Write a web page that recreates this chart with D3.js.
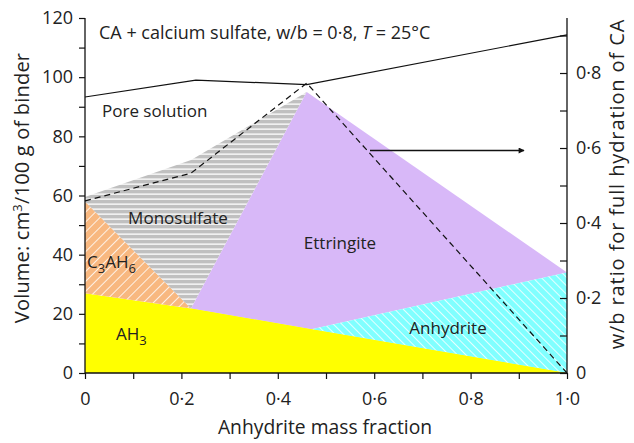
<!DOCTYPE html>
<html><head><meta charset="utf-8">
<script src="https://cdn.jsdelivr.net/npm/d3@7"></script>
<style>
body{margin:0;background:#fff;}
text{font-family:"Open Sans","Noto Sans",sans-serif;fill:#222;}
</style></head><body>
<svg id="chart" width="634" height="443"></svg>
<script>
// ---- data ----
const xTicks = [0, 0.2, 0.4, 0.6, 0.8, 1.0];
const xTickLabels = ["0", "0·2", "0·4", "0·6", "0·8", "1·0"];
const yTicks = [0, 20, 40, 60, 80, 100, 120];
const y2Ticks = [0, 0.2, 0.4, 0.6, 0.8];
const y2TickLabels = ["0", "0·2", "0·4", "0·6", "0·8"];

// phase boundaries [anhydrite fraction, volume cm3/100 g]
const ah3Top = [[0, 27], [0.22, 21.8], [0.47, 14.8], [1, 0]];
const c3ah6Top = [[0, 58], [0.22, 21.8]];
const monoTop = [[0, 59.5], [0.22, 72], [0.46, 95]];
const ettringiteTop = [[0.46, 95], [1, 34]];
const anhydriteTop = [[0.47, 14.8], [1, 34]];
const poreSolution = [[0, 93.3], [0.23, 99], [0.46, 97.5], [1, 114.3]];
// w/b ratio for full hydration (right axis)
const wbRatio = [[0, 0.459], [0.22, 0.533], [0.46, 0.773], [1, 0]];

const svg = d3.select("#chart");
const L = 85, R = 567, T = 18, B = 373;
const x = d3.scaleLinear().domain([0, 1]).range([L, R]);
const y = d3.scaleLinear().domain([0, 120]).range([B, T]);
const y2 = d3.scaleLinear().domain([0, 0.9467]).range([B, T]);

// patterns
const defs = svg.append("defs");
const p1 = defs.append("pattern").attr("id", "hOrange").attr("width", 7).attr("height", 7)
  .attr("patternUnits", "userSpaceOnUse").attr("patternTransform", "rotate(45)");
p1.append("rect").attr("width", 7).attr("height", 7).attr("fill", "#f8b880");
p1.append("line").attr("x1", 0).attr("y1", 0).attr("x2", 0).attr("y2", 7).attr("stroke", "#fff").attr("stroke-width", 1.6);
const p2 = defs.append("pattern").attr("id", "hCyan").attr("width", 6).attr("height", 6)
  .attr("patternUnits", "userSpaceOnUse").attr("patternTransform", "rotate(-45)");
p2.append("rect").attr("width", 6).attr("height", 6).attr("fill", "#80ffff");
p2.append("line").attr("x1", 0).attr("y1", 0).attr("x2", 0).attr("y2", 6).attr("stroke", "#fff").attr("stroke-width", 1.6);
const p3 = defs.append("pattern").attr("id", "hGrey").attr("width", 10).attr("height", 5)
  .attr("patternUnits", "userSpaceOnUse");
p3.append("rect").attr("width", 10).attr("height", 5).attr("fill", "#c0c0c0");
p3.append("rect").attr("y", 3.3).attr("width", 10).attr("height", 1.7).attr("fill", "#f0f0f0");

const poly = pts => "M" + pts.map(p => x(p[0]) + "," + y(p[1])).join("L") + "Z";

// AH3 region
svg.append("path").attr("d", poly([...ah3Top, [0, 0]])).attr("fill", "#ffff00");
// C3AH6
svg.append("path").attr("d", poly([ah3Top[0], ...c3ah6Top])).attr("fill", "url(#hOrange)");
// Monosulfate
svg.append("path").attr("d", poly([c3ah6Top[0], ...monoTop, c3ah6Top[1]])).attr("fill", "url(#hGrey)");
// Ettringite
svg.append("path").attr("d", poly([ah3Top[1], ...ettringiteTop, ...anhydriteTop.slice().reverse()]))
  .attr("fill", "#d8b8f8");
// Anhydrite
svg.append("path").attr("d", poly([...anhydriteTop, [1, 0]])).attr("fill", "url(#hCyan)");
// AH3 overlay for crisp boundary
svg.append("path").attr("d", poly([ah3Top[1], ah3Top[2], ah3Top[3], [1, 0], [0.22, 0]])).attr("fill", "#ffff00");

// lines
svg.append("path").attr("d", d3.line().x(d => x(d[0])).y(d => y(d[1]))(poreSolution))
  .attr("fill", "none").attr("stroke", "#111").attr("stroke-width", 1.2);
svg.append("path").attr("d", d3.line().x(d => x(d[0])).y(d => y2(d[1]))(wbRatio))
  .attr("fill", "none").attr("stroke", "#111").attr("stroke-width", 1.2).attr("stroke-dasharray", "6,4");

// arrow
defs.append("marker").attr("id", "arr").attr("viewBox", "0 0 10 10").attr("refX", 9).attr("refY", 5)
  .attr("markerWidth", 10).attr("markerHeight", 6).attr("orient", "auto").attr("markerUnits", "userSpaceOnUse")
  .append("path").attr("d", "M0,0L10,5L0,10Z").attr("fill", "#111");
svg.append("line").attr("x1", 370).attr("y1", 150.5).attr("x2", 524).attr("y2", 150.5)
  .attr("stroke", "#111").attr("stroke-width", 1.5).attr("marker-end", "url(#arr)");

// axes
const axL = svg.append("g").attr("transform", `translate(${L},0)`)
  .call(d3.axisLeft(y).tickValues(d3.range(0, 121, 10)).tickSize(6).tickFormat(d => yTicks.includes(d) ? d : ""));
const axB = svg.append("g").attr("transform", `translate(0,${B})`)
  .call(d3.axisBottom(x).tickValues(d3.range(0, 11).map(i => i / 10)).tickSize(6)
    .tickFormat(d => { const i = xTicks.findIndex(v => Math.abs(v - d) < 1e-9); return i >= 0 ? xTickLabels[i] : ""; }));
const axR = svg.append("g").attr("transform", `translate(${R},0)`)
  .call(d3.axisRight(y2).tickValues(d3.range(0, 10).map(i => i / 10)).tickSize(-7)
    .tickFormat(d => { const i = y2Ticks.findIndex(v => Math.abs(v - d) < 1e-9); return i >= 0 ? y2TickLabels[i] : ""; }));
[axL, axB, axR].forEach(a => {
  a.select(".domain").attr("stroke", "#111").attr("stroke-width", 1.3);
  a.selectAll(".tick line").attr("stroke", "#111").attr("stroke-width", 1.2);
  a.selectAll("text").style("font-size", "18px").style("font-family", "'Open Sans',sans-serif").attr("fill", "#222");
});
axL.select(".domain").attr("d", `M0,${T}V${B}`);
axR.select(".domain").attr("d", `M0,${T}V${B}`);
axB.select(".domain").attr("d", `M${L},0H${R}`);
axL.selectAll(".tick text").attr("x", -12);
axB.selectAll(".tick text").attr("y", 19);
axR.selectAll(".tick text").attr("x", 9);

// titles
svg.append("text").attr("x", 325).attr("y", 434).attr("text-anchor", "middle").style("font-size", "19.3px")
  .text("Anhydrite mass fraction");
const yt = svg.append("text").attr("transform", "translate(29,188) rotate(-90)").attr("text-anchor", "middle")
  .style("font-size", "20px").style("letter-spacing", "0.2px");
yt.append("tspan").text("Volume: cm");
yt.append("tspan").attr("dy", -7).style("font-size", "13px").text("3");
yt.append("tspan").attr("dy", 7).text("/100 g of binder");
svg.append("text").attr("transform", "translate(624,184) rotate(-90)").attr("text-anchor", "middle")
  .style("font-size", "20px").style("letter-spacing", "0.9px").text("w/b ratio for full hydration of CA");

const tt = svg.append("text").attr("x", 99).attr("y", 39).style("font-size", "18px");
tt.append("tspan").text("CA + calcium sulfate, w/b = 0·8, ");
tt.append("tspan").style("font-style", "italic").text("T");
tt.append("tspan").text(" = 25°C");

// region labels
const lab = (tx, ty, s, anchor) => svg.append("text").attr("x", tx).attr("y", ty)
  .attr("text-anchor", anchor || "start").style("font-size", "17px").text(s);
lab(102, 117, "Pore solution");
lab(178, 224, "Monosulfate", "middle");
lab(340, 249, "Ettringite", "middle");
lab(448, 334, "Anhydrite", "middle");
const c3 = svg.append("text").attr("x", 87).attr("y", 268).style("font-size", "17px");
c3.append("tspan").text("C");
c3.append("tspan").attr("dy", 5).style("font-size", "13px").text("3");
c3.append("tspan").attr("dy", -5).text("AH");
c3.append("tspan").attr("dy", 5).style("font-size", "13px").text("6");
const ah = svg.append("text").attr("x", 116).attr("y", 340).style("font-size", "17px");
ah.append("tspan").text("AH");
ah.append("tspan").attr("dy", 5).style("font-size", "13px").text("3");
</script></body></html>
